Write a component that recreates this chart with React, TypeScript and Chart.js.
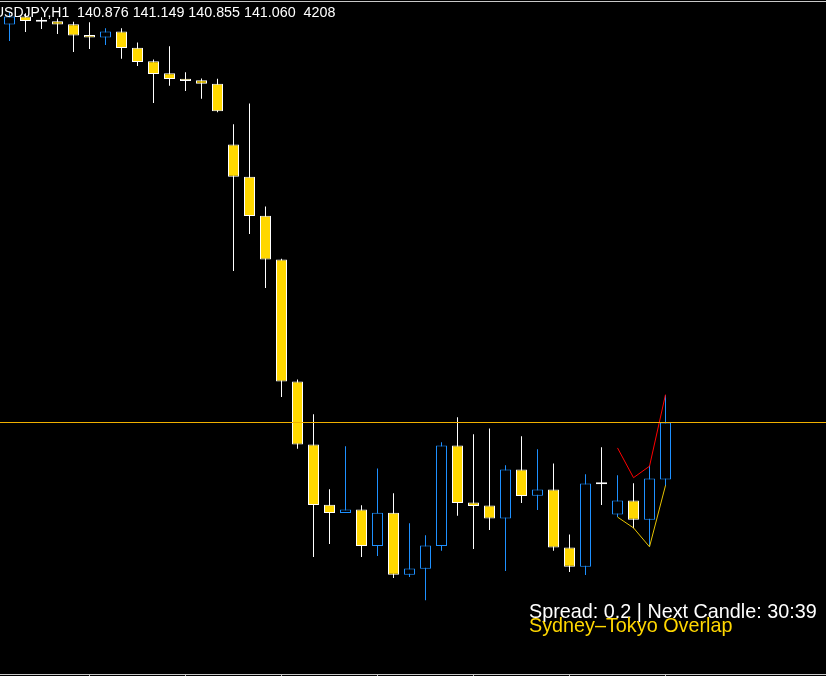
import React, { useEffect, useRef } from "react";
import { Chart, registerables } from "chart.js";

Chart.register(...registerables);

// ---- data ----
const symbol = "USDJPY";
const timeframe = "H1";
const barsCount = 4208;
const spreadText = "Spread: 0.2 | Next Candle: 30:39";
const sessionText = "Sydney–Tokyo Overlap";

const opens = [
  142.344, 142.370, 142.353, 142.354, 142.345, 142.310, 142.302, 142.321, 142.269, 142.225,
  142.187, 142.169, 142.164, 142.153, 141.957, 141.853, 141.727, 141.586, 141.192, 140.989,
  140.795, 140.768, 140.779, 140.662, 140.769, 140.569, 140.588, 140.662, 140.986, 140.802,
  140.792, 140.750, 140.908, 140.824, 140.844, 140.657, 140.595, 140.861, 140.763, 140.808,
  140.746, 140.876,
];
const highs = [
  142.383, 142.380, 142.367, 142.363, 142.353, 142.351, 142.332, 142.332, 142.286, 142.231,
  142.274, 142.190, 142.170, 142.169, 142.022, 142.089, 141.757, 141.588, 141.199, 141.087,
  140.845, 140.983, 140.793, 140.912, 140.832, 140.735, 140.696, 140.996, 141.077, 141.022,
  141.041, 140.922, 141.016, 140.974, 140.928, 140.699, 140.893, 140.980, 140.890, 140.864,
  140.922, 141.149,
];
const lows = [
  142.291, 142.320, 142.329, 142.313, 142.255, 142.265, 142.278, 142.233, 142.210, 142.091,
  142.146, 142.129, 142.104, 142.061, 141.549, 141.668, 141.494, 141.142, 140.975, 140.626,
  140.668, 140.768, 140.626, 140.629, 140.558, 140.562, 140.487, 140.646, 140.759, 140.652,
  140.713, 140.581, 140.800, 140.778, 140.646, 140.578, 140.568, 140.794, 140.755, 140.719,
  140.659, 140.855,
];
const closes = [
  142.370, 142.355, 142.353, 142.344, 142.308, 142.302, 142.321, 142.268, 142.223, 142.184,
  142.168, 142.162, 142.153, 142.064, 141.853, 141.726, 141.586, 141.192, 140.989, 140.794,
  140.768, 140.779, 140.662, 140.769, 140.569, 140.589, 140.663, 140.986, 140.800, 140.791,
  140.750, 140.908, 140.823, 140.844, 140.657, 140.595, 140.863, 140.861, 140.808, 140.746,
  140.879, 141.060,
];

const priceLine = 141.06;
const bandIndex = [38, 39, 40, 41];
const upperBand = [140.978, 140.882, 140.919, 141.150];
const lowerBand = [140.755, 140.72, 140.659, 140.857];
const timeTicks = [5, 11, 17, 23, 29, 35, 41];

// ---- styles ----
const BULL = "#1E90FF";
const BEAR = "#FFD700";
const WICK = "#FFFFFF";
const FRAME = "#C8C8C8";
const PRICE_LINE = "#F0B000";
const FONT = '"Liberation Sans", Arial, sans-serif';

export default function App() {
  const ref = useRef<HTMLCanvasElement>(null);

  useEffect(() => {
    const canvas = ref.current;
    if (!canvas) return;
    const idx = opens.map((_, i) => i);
    const kind = idx.map((i) => (closes[i] > opens[i] ? "up" : closes[i] < opens[i] ? "down" : "flat"));

    const overlay = {
      id: "overlay",
      beforeDraw(chart: any) {
        const c = chart.ctx;
        c.save();
        c.fillStyle = "#000";
        c.fillRect(0, 0, chart.width, chart.height);
        c.restore();
      },
      afterDraw(chart: any) {
        const c = chart.ctx;
        const xs = chart.scales.x;
        const w = chart.width;
        c.save();
        c.fillStyle = FRAME;
        c.fillRect(0, 1, w, 1);
        c.fillRect(0, 674, w, 1);
        timeTicks.forEach((t) => {
          const px = Math.floor(xs.getPixelForValue(t));
          c.fillRect(px, 674, 1, 2);
        });
        const last = opens.length - 1;
        const label = `${symbol},${timeframe}`;
        const values =
          `${opens[last].toFixed(3)} ${highs[last].toFixed(3)} ` +
          `${lows[last].toFixed(3)} ${closes[last].toFixed(3)}  ${barsCount}`;
        c.textBaseline = "alphabetic";
        c.fillStyle = "#FFFFFF";
        c.font = `14px ${FONT}`;
        c.fillText(label, -6, 16.5);
        c.font = `14.3px ${FONT}`;
        c.fillText(values, 77, 16.5);
        c.font = `19.8px ${FONT}`;
        c.fillStyle = "#FFFFFF";
        c.fillText(spreadText, 529, 617.5);
        c.fillStyle = BEAR;
        c.fillText(sessionText, 529, 631.5);
        c.restore();
      },
    };

    const chart = new Chart(canvas, {
      type: "bar",
      data: {
        datasets: [
          {
            type: "line",
            data: [
              { x: -1, y: priceLine },
              { x: 52, y: priceLine },
            ],
            borderColor: PRICE_LINE,
            borderWidth: 1,
            pointRadius: 0,
            order: 0,
          } as any,
          {
            type: "line",
            data: bandIndex.map((x, k) => ({ x, y: upperBand[k] })),
            borderColor: "#FF0000",
            borderWidth: 1,
            pointRadius: 0,
            tension: 0,
            order: 0,
          } as any,
          {
            type: "line",
            data: bandIndex.map((x, k) => ({ x, y: lowerBand[k] })),
            borderColor: "#E6C200",
            borderWidth: 1,
            pointRadius: 0,
            tension: 0,
            order: 0,
          } as any,
          {
            type: "bar",
            data: idx.map((i) => ({ x: i, y: [opens[i], closes[i]] })),
            backgroundColor: kind.map((k) => (k === "up" ? "#000000" : k === "down" ? BEAR : "#FFFFFF")),
            borderColor: kind.map((k) => (k === "up" ? BULL : "#FFFFFF")),
            borderWidth: 1,
            borderSkipped: false,
            barThickness: 11,
            maxBarThickness: 11,
            minBarLength: 2,
            grouped: false,
            inflateAmount: 0,
            order: 1,
          } as any,
          {
            type: "bar",
            data: idx.map((i) => ({ x: i, y: [lows[i], highs[i]] })),
            backgroundColor: kind.map((k) => (k === "up" ? BULL : WICK)),
            borderWidth: 0,
            barThickness: 1,
            maxBarThickness: 1,
            grouped: false,
            inflateAmount: 0,
            order: 2,
          } as any,
        ],
      },
      options: {
        responsive: false,
        devicePixelRatio: 1,
        animation: false,
        events: [],
        layout: { padding: 0 },
        plugins: { legend: { display: false }, tooltip: { enabled: false } },
        scales: {
          x: { type: "linear", min: -0.59375, max: 51.03125, display: false, offset: false },
          y: { type: "linear", min: 140.24226, max: 142.4229, display: false },
        },
      } as any,
      plugins: [overlay],
    });
    return () => chart.destroy();
  }, []);

  return (
    <div style={{ position: "fixed", left: 0, top: 0, width: 826, height: 676, background: "#000" }}>
      <canvas ref={ref} width={826} height={676} style={{ display: "block" }} />
    </div>
  );
}
